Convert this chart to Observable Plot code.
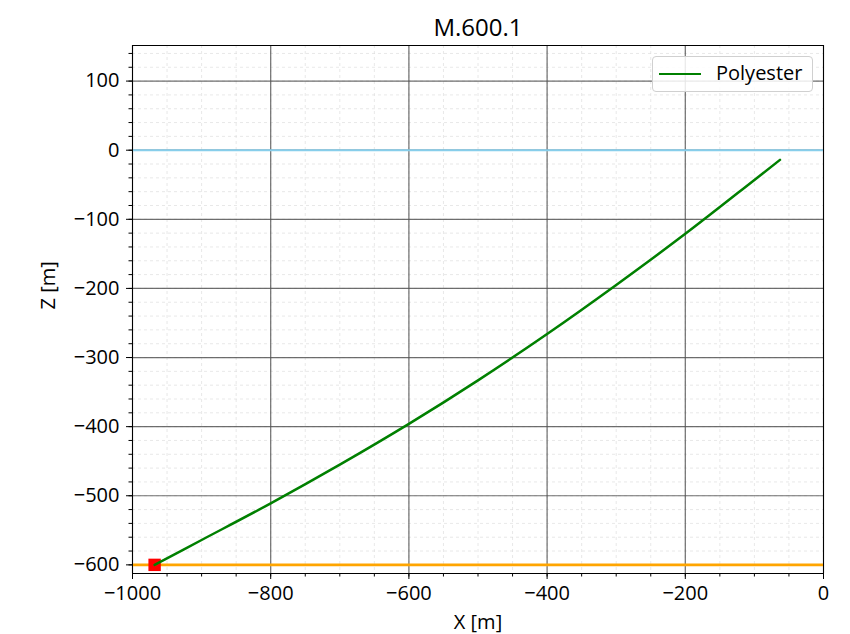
<!DOCTYPE html>
<html>
<head>
<meta charset="utf-8">
<script src="https://cdn.jsdelivr.net/npm/d3@7"></script>
<script src="https://cdn.jsdelivr.net/npm/@observablehq/plot@0.6"></script>
<style>
  html, body { margin: 0; padding: 0; background: #fff; }
  #wrap { position: relative; width: 850px; height: 634px; font-family: "Open Sans", sans-serif; }
  #legend {
    position: absolute; left: 652px; top: 56px; width: 161px; height: 36px;
    border: 1px solid #d0d0d0; border-radius: 4px; background: rgba(255,255,255,0.85);
    box-sizing: border-box; font-size: 20px; color: #000; line-height: 1;
  }
  #legend .sw { position: absolute; left: 6px; top: 16px; width: 42px; height: 0; border-top: 2px solid #008000; }
  #legend .lb { position: absolute; left: 63px; top: 6px; }
</style>
</head>
<body>
<div id="wrap"></div>
<script>
const title = "M.600.1";
const seriesName = "Polyester";
const xValues = [-968, -900, -800, -700, -600, -500, -400, -300, -200, -100, -63];
const zValues = [-600, -564, -511, -455, -396, -333, -266, -195, -121, -43, -14];
const seaLevel = [0];
const seabed = [-600];
const anchorX = [-968];
const anchorZ = [-600];
const xTicks = [-1000, -800, -600, -400, -200, 0];
const zTicks = [-600, -500, -400, -300, -200, -100, 0, 100];
const xMinor = d3.range(-1000, 1, 50);
const zMinor = d3.range(-600, 151, 20);

const line = xValues.map((x, i) => ({x, z: zValues[i]}));
const anchor = anchorX.map((x, i) => ({x, z: anchorZ[i]}));

const plot = Plot.plot({
  width: 850,
  height: 634,
  marginLeft: 132,
  marginRight: 27,
  marginTop: 45,
  marginBottom: 61,
  style: {fontFamily: "Open Sans, sans-serif", fontSize: "20px", color: "#000", background: "#fff"},
  x: {domain: [-1000, 0]},
  y: {domain: [-612.5, 151.5]},
  marks: [
    Plot.gridX(xMinor, {stroke: "#d8d8d8", strokeOpacity: 0.6, strokeDasharray: "3,3"}),
    Plot.gridY(zMinor, {stroke: "#d8d8d8", strokeOpacity: 0.6, strokeDasharray: "3,3"}),
    Plot.gridX(xTicks, {stroke: "#555", strokeOpacity: 0.85, strokeWidth: 1.2}),
    Plot.gridY(zTicks, {stroke: "#555", strokeOpacity: 0.85, strokeWidth: 1.2}),
    Plot.ruleY(seaLevel, {stroke: "#87ceeb", strokeWidth: 2}),
    Plot.ruleY(seabed, {stroke: "#ffa500", strokeWidth: 2.6}),
    Plot.dot(anchor, {x: "x", y: "z", symbol: "square", r: 7, fill: "#ff0000", stroke: "none"}),
    Plot.line(line, {x: "x", y: "z", stroke: "#008000", strokeWidth: 2.5, curve: "catmull-rom"}),
    Plot.axisX(xMinor, {tickSize: 3.5, text: null, stroke: "#000", label: null}),
    Plot.axisY(zMinor, {tickSize: 3.5, text: null, stroke: "#000", label: null}),
    Plot.axisX(xTicks, {tickSize: 6, tickPadding: 6, fontSize: 20, stroke: "#000", label: null, tickFormat: d3.format("d")}),
    Plot.axisY(zTicks, {tickSize: 6, tickPadding: 7, fontSize: 20, stroke: "#000", label: null, tickFormat: d3.format("d")}),
    Plot.frame({stroke: "#000", strokeWidth: 1}),
    Plot.text([title], {frameAnchor: "top", dy: -27, fontSize: 24, fill: "#000"}),
    Plot.text(["X [m]"], {frameAnchor: "bottom", dy: 55, fontSize: 20, fill: "#000"}),
    Plot.text(["Z [m]"], {frameAnchor: "left", dx: -84, rotate: -90, fontSize: 20, fill: "#000"})
  ]
});

const wrap = document.getElementById("wrap");
wrap.appendChild(plot);
const lg = document.createElement("div");
lg.id = "legend";
lg.innerHTML = '<div class="sw"></div><div class="lb"></div>';
lg.querySelector(".lb").textContent = seriesName;
wrap.appendChild(lg);
</script>
</body>
</html>
